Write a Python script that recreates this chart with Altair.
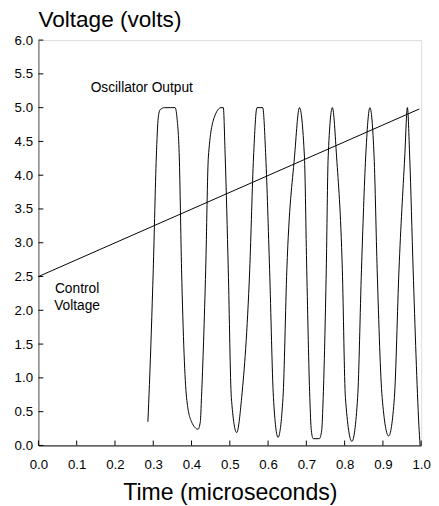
import altair as alt
import pandas as pd

# Oscillator output
osc_x = [0.286, 0.290, 0.300, 0.308, 0.313, 0.318, 0.330, 0.345, 0.357, 0.362, 0.368, 0.374, 0.387,
         0.400, 0.417, 0.423, 0.426, 0.437, 0.444, 0.459, 0.477, 0.483, 0.488, 0.496, 0.504,
         0.518, 0.531, 0.552, 0.562, 0.571, 0.586, 0.594, 0.604, 0.614,
         0.626, 0.639, 0.649, 0.669, 0.682, 0.695, 0.701, 0.709,
         0.713, 0.718, 0.734, 0.740, 0.744, 0.752, 0.757, 0.768, 0.779, 0.794, 0.802,
         0.819, 0.834, 0.844, 0.855, 0.866, 0.877, 0.885, 0.898,
         0.915, 0.930, 0.942, 0.957, 0.964, 0.970, 0.979, 0.994, 0.997]
osc_y = [0.35, 0.90, 2.60, 4.27, 4.85, 4.97, 5.00, 5.00, 5.00, 4.85, 4.27, 2.60, 0.71,
         0.35, 0.24, 0.35, 0.71, 2.60, 4.27, 4.85, 5.00, 5.00, 4.27, 2.60, 0.71,
         0.19, 0.71, 2.60, 4.27, 5.00, 5.00, 4.27, 2.60, 0.71,
         0.12, 0.71, 2.60, 4.27, 5.00, 4.27, 2.60, 0.71,
         0.22, 0.10, 0.10, 0.22, 0.71, 2.60, 4.27, 5.00, 4.27, 2.60, 0.71,
         0.06, 0.71, 2.60, 4.27, 5.00, 4.27, 2.60, 0.71,
         0.14, 0.71, 2.60, 4.27, 5.00, 4.27, 2.60, 0.30, 0.00]

# Control voltage
ctrl_x = [0.0, 0.995]
ctrl_y = [2.5, 4.98]

# Annotations
label_text = ["Oscillator Output", "Control", "Voltage"]
label_x = [0.270, 0.101, 0.101]
label_y = [5.29, 2.31, 2.06]

x_ticks = [0.0, 0.1, 0.2, 0.3, 0.4, 0.5, 0.6, 0.7, 0.8, 0.9, 1.0]
y_ticks = [0.0, 0.5, 1.0, 1.5, 2.0, 2.5, 3.0, 3.5, 4.0, 4.5, 5.0, 5.5, 6.0]

FONT = "Liberation Sans"
W, H = 390, 413
TICK_PX = 5

osc_df = pd.DataFrame({"x": osc_x, "y": osc_y})
ctrl_df = pd.DataFrame({"x": ctrl_x, "y": ctrl_y})
lab_df = pd.DataFrame({"t": label_text, "x": label_x, "y": label_y})
xt_df = pd.DataFrame({"x": x_ticks, "y0": [0.0] * len(x_ticks),
                      "y1": [TICK_PX * 6.0 / H] * len(x_ticks)})
yt_df = pd.DataFrame({"y": y_ticks, "x0": [0.0] * len(y_ticks),
                      "x1": [TICK_PX * 1.0 / W] * len(y_ticks)})

xscale = alt.Scale(domain=[0, 1], nice=False, zero=False)
yscale = alt.Scale(domain=[0, 6], nice=False, zero=False)

xaxis = alt.Axis(values=x_ticks, format=".1f", title="Time (microseconds)", ticks=False,
                 labelFontSize=13.5, labelFont=FONT, labelColor="black", labelPadding=13,
                 labelOverlap=False, labelFlush=False,
                 titleFontSize=23.5, titleFont=FONT, titleFontWeight="normal", titleColor="black",
                 titlePadding=10, grid=False, domainColor="black")
yaxis = alt.Axis(values=y_ticks, format=".1f", title=None, ticks=False,
                 labelFontSize=13.5, labelFont=FONT, labelColor="black", labelPadding=6,
                 labelOverlap=False, labelFlush=False,
                 grid=False, domainColor="#555555")

X = alt.X("x:Q", scale=xscale, axis=xaxis, title="Time (microseconds)")
Y = alt.Y("y:Q", scale=yscale, axis=yaxis, title=None)

osc = alt.Chart(osc_df).mark_line(color="black", strokeWidth=1, interpolate="monotone").encode(
    x=X, y=Y, order="x:Q",
)
ctrl = alt.Chart(ctrl_df).mark_line(color="black", strokeWidth=1).encode(x=X, y=Y)
labels = alt.Chart(lab_df).mark_text(font=FONT, fontSize=14, color="black", align="center",
                                     baseline="middle").encode(x=X, y=Y, text="t:N")
xt = alt.Chart(xt_df).mark_rule(color="black", strokeWidth=1).encode(
    x=X,
    y=alt.Y("y0:Q", scale=yscale, axis=yaxis, title=None),
    y2="y1:Q",
)
yt = alt.Chart(yt_df).mark_rule(color="black", strokeWidth=1).encode(
    y=Y,
    x=alt.X("x0:Q", scale=xscale, axis=xaxis, title="Time (microseconds)"),
    x2="x1:Q",
)

chart = alt.layer(osc, ctrl, labels, xt, yt).properties(
    width=W, height=H,
    autosize=alt.AutoSizeParams(type="none"),
    padding={"left": 31, "top": 28, "right": 10, "bottom": 56},
    title=alt.Title("Voltage (volts)", anchor="start", frame="group", font=FONT, fontSize=23,
                    fontWeight="normal", color="black", offset=1),
).configure_view(stroke="black", strokeWidth=1).configure(background="white")

chart.save("out.html", embed_options={"renderer": "svg", "actions": False})
